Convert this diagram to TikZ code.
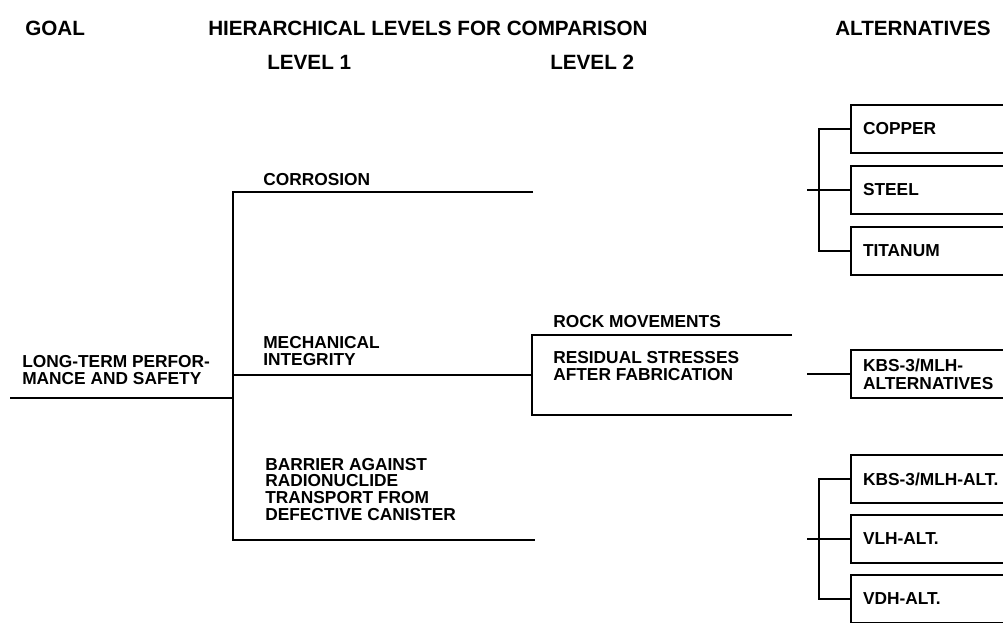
\documentclass[tikz,border=0pt]{standalone}
\usepackage{fontspec}
\setmainfont{Liberation Sans}
\usetikzlibrary{positioning}

\begin{document}
\begin{tikzpicture}[
  x=0.75pt, y=-0.75pt,
  head/.style={anchor=base west, inner sep=0pt,
               font=\fontsize{15.5}{18}\selectfont\bfseries},
  lab/.style={anchor=base west, inner sep=0pt, align=left,
              font=\fontsize{13}{12.5}\selectfont\bfseries},
  altbox/.style={rectangle, draw, line width=1.5pt, anchor=west,
                 minimum height=36pt, text width=110pt, inner xsep=9pt,
                 inner ysep=0pt, align=left,
                 font=\fontsize{13}{13.5}\selectfont\bfseries},
  tree/.style={line width=1.5pt}
]
\useasboundingbox (0,0) rectangle (1003,622);

%% ---- headings ----
\node[head] (goalhd) at (25,35)  {GOAL};
\node[head] (hierhd) at (208,35) {HIERARCHICAL LEVELS FOR COMPARISON};
\node[head] (lev1hd) at (267,69) {LEVEL 1};
\node[head] (lev2hd) at (550,69) {LEVEL 2};
\node[head] (althd)  at (835,35) {ALTERNATIVES};

%% ---- goal ----
\node[lab] (goal) at (22,384) {LONG-TERM PERFOR-\\MANCE AND SAFETY};
\coordinate (goal0) at (10,398);
\coordinate (goal1) at (233,398);

%% ---- level 1 ----
\node[lab] (corr) at (263,185) {CORROSION};
\node[lab] (mech) at (263,365) {MECHANICAL\\INTEGRITY};
\node[lab] (barr) at (265,520)
  {BARRIER AGAINST\\RADIONUCLIDE\\TRANSPORT FROM\\DEFECTIVE CANISTER};
\coordinate (corr0) at (233,192);
\coordinate (corr1) at (533,192);
\coordinate (mech0) at (233,375);
\coordinate (mech1) at (532,375);
\coordinate (barr0) at (233,540);
\coordinate (barr1) at (535,540);

%% ---- level 2 ----
\node[lab] (rock) at (553,327) {ROCK MOVEMENTS};
\node[lab] (resid) at (553,380) {RESIDUAL STRESSES\\AFTER FABRICATION};
\coordinate (rock0)  at (532,335);
\coordinate (rock1)  at (792,335);
\coordinate (resid0) at (532,415);
\coordinate (resid1) at (792,415);

%% ---- alternatives ----
\node[altbox] (copper) at (850,129) {COPPER};
\node[altbox] (steel)  at (850,190) {STEEL};
\node[altbox] (titan)  at (850,251) {TITANUM};
\node[altbox] (kbs)    at (850,374) {KBS-3/MLH-\\ALTERNATIVES};
\node[altbox] (kbsalt) at (850,479) {KBS-3/MLH-ALT.};
\node[altbox] (vlh)    at (850,539) {VLH-ALT.};
\node[altbox] (vdh)    at (850,599) {VDH-ALT.};
\coordinate (metal) at (807,190);
\coordinate (kbs0)  at (807,374);
\coordinate (rep)   at (807,539);

%% ---- lines ----
\draw[tree] (goal0) -- (goal1);
\draw[tree] (corr1) -- (corr0) -- (barr0) -- (barr1);
\draw[tree] (mech0) -- (mech1);
\draw[tree] (rock1) -- (rock0) -- (resid0) -- (resid1);
% alternative groups
\draw[tree] (copper.west) -- ++(-31,0) |- (titan.west);
\draw[tree] (metal) -- (steel.west);
\draw[tree] (kbs0) -- (kbs.west);
\draw[tree] (kbsalt.west) -- ++(-31,0) |- (vdh.west);
\draw[tree] (rep) -- (vlh.west);
\end{tikzpicture}
\end{document}
